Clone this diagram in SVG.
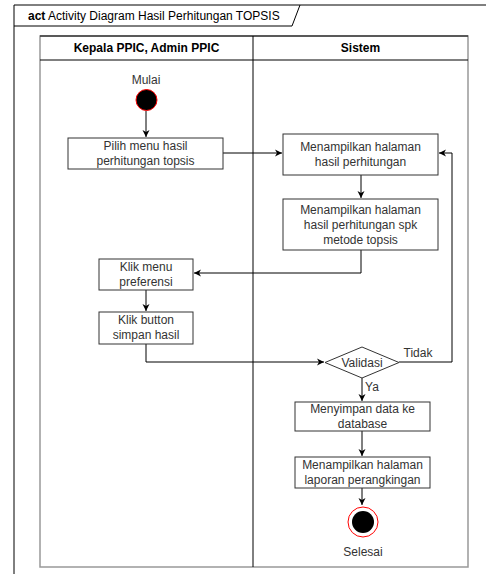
<svg xmlns="http://www.w3.org/2000/svg" width="486" height="574" viewBox="0 0 486 574">
<defs>
<marker id="arr" markerWidth="8" markerHeight="8" refX="7" refY="4" orient="auto" markerUnits="userSpaceOnUse">
<path d="M0,0.5 L7,4 L0,7.5 L2,4 Z" fill="#000"/>
</marker>
<style>
.t{font-family:"Liberation Sans",Arial,sans-serif;font-size:12px;fill:#333;text-anchor:middle}
.b{font-weight:bold;fill:#000}
.box{fill:#fff;stroke:#333;stroke-width:1}
.c{fill:none;stroke:#000;stroke-width:1}
</style>
</defs>
<rect width="486" height="574" fill="#fff"/>
<g id="frame">
<path d="M486,5 L14,5 L14,574" fill="none" stroke="#000" stroke-width="1"/>
<path d="M14,26 L292,26 L300,5" fill="none" stroke="#000" stroke-width="1"/>
<text x="28" y="20" style="font-family:'Liberation Sans',Arial,sans-serif;font-size:12px;fill:#000"><tspan font-weight="bold">act</tspan> Activity Diagram Hasil Perhitungan TOPSIS</text>
</g>
<g id="pool">
<rect x="40" y="36" width="428" height="531" fill="#fff" stroke="#999" stroke-width="1.5"/>
<line x1="40" y1="60" x2="468" y2="60" stroke="#000"/>
<line x1="40" y1="36" x2="468" y2="36" stroke="#000"/>
<line x1="253" y1="36" x2="253" y2="567" stroke="#000"/>
<text class="t b" x="146.5" y="52">Kepala PPIC, Admin PPIC</text>
<text class="t b" x="360.5" y="52">Sistem</text>
</g>
<g id="connectors">
<line class="c" x1="146" y1="111" x2="146" y2="137" marker-end="url(#arr)"/>
<line class="c" x1="223" y1="153" x2="282" y2="153" marker-end="url(#arr)"/>
<line class="c" x1="361" y1="175" x2="361" y2="198" marker-end="url(#arr)"/>
<polyline class="c" points="361,250 361,273 194,273" marker-end="url(#arr)"/>
<line class="c" x1="146" y1="290" x2="146" y2="311" marker-end="url(#arr)"/>
<polyline class="c" points="146,344 146,362 324,362" marker-end="url(#arr)"/>
<polyline class="c" points="399,362 452,362 452,153 439,153" marker-end="url(#arr)"/>
<line class="c" x1="362" y1="378" x2="362" y2="401" marker-end="url(#arr)"/>
<line class="c" x1="362" y1="431" x2="362" y2="456" marker-end="url(#arr)"/>
<line class="c" x1="362" y1="488" x2="362" y2="505" marker-end="url(#arr)"/>
<text class="t" x="418" y="357">Tidak</text>
<text class="t" x="372" y="391">Ya</text>
</g>
<g id="start">
<text class="t" x="146" y="84">Mulai</text>
<circle cx="146.5" cy="100" r="10.5" fill="#000" stroke="#f00" stroke-width="1"/>
</g>
<g id="pilih">
<rect class="box" x="68" y="138" width="155" height="31"/>
<text class="t" x="145.5" y="150">Pilih menu hasil</text>
<text class="t" x="145.5" y="165">perhitungan topsis</text>
</g>
<g id="tampil1">
<rect class="box" x="283" y="134" width="155" height="41"/>
<text class="t" x="360.5" y="151">Menampilkan halaman</text>
<text class="t" x="360.5" y="166">hasil perhitungan</text>
</g>
<g id="tampil2">
<rect class="box" x="283" y="199" width="155" height="51"/>
<text class="t" x="360.5" y="214">Menampilkan halaman</text>
<text class="t" x="360.5" y="229">hasil perhitungan spk</text>
<text class="t" x="360.5" y="244">metode topsis</text>
</g>
<g id="preferensi">
<rect class="box" x="99" y="259" width="94" height="31"/>
<text class="t" x="146" y="271">Klik menu</text>
<text class="t" x="146" y="286">preferensi</text>
</g>
<g id="simpan">
<rect class="box" x="99" y="312" width="94" height="32"/>
<text class="t" x="146" y="324">Klik button</text>
<text class="t" x="146" y="339">simpan hasil</text>
</g>
<g id="validasi">
<polygon points="325,362.5 362,347 399,362.5 362,378" fill="#fff" stroke="#333"/>
<text class="t" x="362" y="367">Validasi</text>
</g>
<g id="menyimpan">
<rect class="box" x="295" y="402" width="135" height="29"/>
<text class="t" x="362.5" y="413">Menyimpan data ke</text>
<text class="t" x="362.5" y="428">database</text>
</g>
<g id="laporan">
<rect class="box" x="295" y="457" width="135" height="31"/>
<text class="t" x="362.5" y="469">Menampilkan halaman</text>
<text class="t" x="362.5" y="484">laporan perangkingan</text>
</g>
<g id="end">
<circle cx="363" cy="522" r="15" fill="#fff" stroke="#f00" stroke-width="1"/>
<circle cx="363" cy="522" r="11" fill="#000"/>
<text class="t" x="363" y="556">Selesai</text>
</g>
</svg>
